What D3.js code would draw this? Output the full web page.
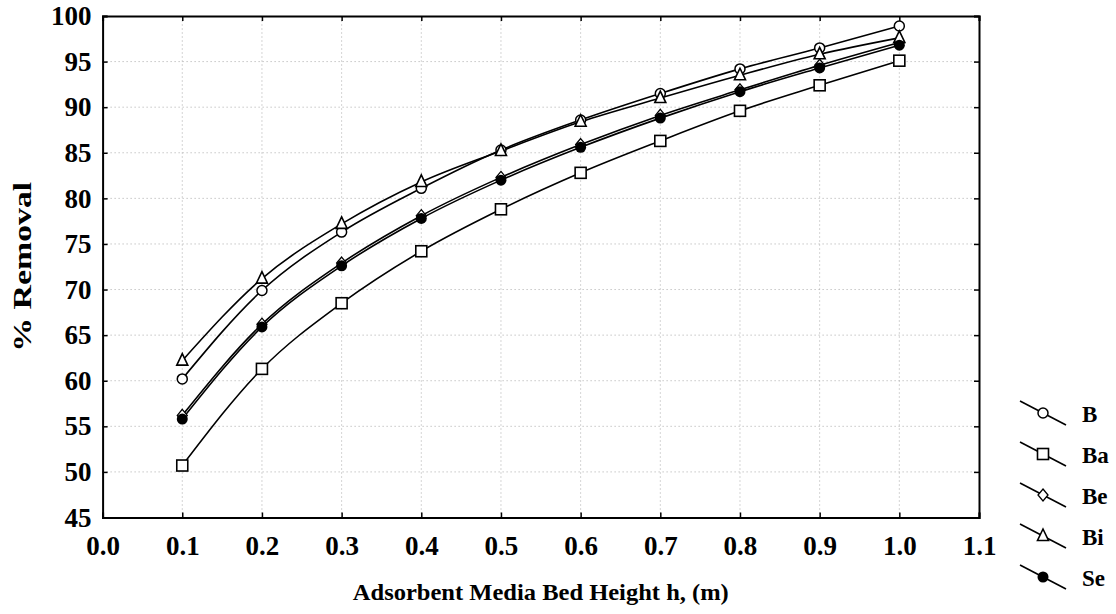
<html>
<head>
<title>removal vs bed height</title>
<style>
  body { margin: 0; background: #fff; }
  text { font-family: "Liberation Serif", "Times New Roman", serif; font-weight: bold; fill: #000; }
</style>
</head>
<body>
<script src="https://d3js.org/d3.v7.min.js"></script>
<script>
// data
var heights = [0.1, 0.2, 0.3, 0.4, 0.5, 0.6, 0.7, 0.8, 0.9, 1.0]
var B  = [60.2, 69.9, 76.3, 81.1, 85.3, 88.6, 91.5, 94.2, 96.5, 98.9]
var Ba = [50.7, 61.3, 68.5, 74.2, 78.8, 82.8, 86.3, 89.6, 92.4, 95.1]
var Be = [56.2, 66.2, 72.9, 78.1, 82.3, 85.9, 89.1, 91.9, 94.6, 97.1]
var Bi = [62.2, 71.2, 77.2, 81.8, 85.2, 88.4, 91.0, 93.5, 95.8, 97.6]
var Se = [55.8, 65.9, 72.6, 77.8, 82.0, 85.6, 88.8, 91.7, 94.3, 96.8]
var xTicks = [0.0, 0.1, 0.2, 0.3, 0.4, 0.5, 0.6, 0.7, 0.8, 0.9, 1.0, 1.1]
var yTicks = [45, 50, 55, 60, 65, 70, 75, 80, 85, 90, 95, 100]
var names = ["B", "Ba", "Be", "Bi", "Se"]
var symbols = ["circle", "square", "diamond", "triangle", "dot"]

var series = [B, Ba, Be, Bi, Se].map(function(vals, i){
    return { name: names[i], sym: symbols[i],
             pts: vals.map(function(v, j){ return [heights[j], v] }) }
})

var width = 1116, height = 614
var padding = {left: 102.6, right: 137, top: 16, bottom: 96.5}

var svg = d3.select('body').append('svg')
    .attr('width', width).attr('height', height)

var x = d3.scaleLinear().domain([0, 1.1]).range([padding.left, width - padding.right])
var y = d3.scaleLinear().domain([45, 100]).range([height - padding.bottom, padding.top])

// grid
svg.append('g').selectAll('line.gx')
    .data(xTicks.slice(1, -1)).enter().append('line')
    .attr('x1', d => x(d)).attr('x2', d => x(d))
    .attr('y1', y(45)).attr('y2', y(100))
    .attr('stroke', '#aaa').attr('stroke-width', 1).attr('stroke-dasharray', '1,3')
svg.append('g').selectAll('line.gy')
    .data(yTicks.slice(1, -1)).enter().append('line')
    .attr('x1', x(0)).attr('x2', x(1.1))
    .attr('y1', d => y(d)).attr('y2', d => y(d))
    .attr('stroke', '#aaa').attr('stroke-width', 1).attr('stroke-dasharray', '1,3')

// axes
var fmt = d3.format('.1f')
var gx = svg.append('g').attr('transform', 'translate(0,' + y(45) + ')')
    .call(d3.axisBottom(x).tickValues(xTicks).tickFormat(fmt).tickSize(-5).tickPadding(18))
var gy = svg.append('g').attr('transform', 'translate(' + x(0) + ',0)')
    .call(d3.axisLeft(y).tickValues(yTicks).tickSize(-5).tickPadding(11))
var gt = svg.append('g').attr('transform', 'translate(0,' + y(100) + ')')
    .call(d3.axisTop(x).tickValues(xTicks).tickFormat('').tickSize(-5))
var gr = svg.append('g').attr('transform', 'translate(' + x(1.1) + ',0)')
    .call(d3.axisRight(y).tickValues(yTicks).tickFormat('').tickSize(-5))

;[gx, gy, gt, gr].forEach(function(g){
    g.select('.domain').attr('stroke', '#000').attr('stroke-width', 2)
    g.selectAll('.tick line').attr('stroke', '#000').attr('stroke-width', 1.5)
    g.selectAll('.tick text').style('font-family', '"Liberation Serif", serif')
        .style('font-weight', 'bold').style('font-size', '27px').attr('fill', '#000')
})
gx.selectAll('.tick text').attr('dy', '0.71em')

// axis titles
svg.append('text').attr('x', x(0.55)).attr('y', 600)
    .attr('text-anchor', 'middle').style('font-size', '24px')
    .attr('textLength', 376).attr('lengthAdjust', 'spacingAndGlyphs')
    .text('Adsorbent Media Bed Height h, (m)')
svg.append('text').attr('transform', 'translate(31,' + y(72.5) + ') rotate(-90)')
    .attr('text-anchor', 'middle').style('font-size', '25px')
    .attr('textLength', 170).attr('lengthAdjust', 'spacingAndGlyphs')
    .text('% Removal')

// lines
var line = d3.line().x(d => x(d[0])).y(d => y(d[1])).curve(d3.curveMonotoneX)
svg.append('g').selectAll('path.s')
    .data(series).enter().append('path')
    .attr('d', d => line(d.pts))
    .attr('fill', 'none').attr('stroke', '#000').attr('stroke-width', 1.6)

function marker(g, sym){
    if (sym == 'circle') g.append('circle').attr('r', 5).attr('fill', '#fff').attr('stroke', '#000').attr('stroke-width', 1.5)
    if (sym == 'dot') g.append('circle').attr('r', 5.5).attr('fill', '#000')
    if (sym == 'square') g.append('rect').attr('x', -5.5).attr('y', -5.5).attr('width', 11).attr('height', 11)
        .attr('fill', '#fff').attr('stroke', '#000').attr('stroke-width', 1.6)
    if (sym == 'diamond') g.append('path').attr('d', 'M0,-6L5,0L0,6L-5,0Z')
        .attr('fill', '#fff').attr('stroke', '#000').attr('stroke-width', 1.3)
    if (sym == 'triangle') g.append('path').attr('d', 'M0,-7L5.5,4.5L-5.5,4.5Z')
        .attr('fill', '#fff').attr('stroke', '#000').attr('stroke-width', 1.6)
}

series.forEach(function(s){
    s.pts.forEach(function(p){
        var g = svg.append('g').attr('transform', 'translate(' + x(p[0]) + ',' + y(p[1]) + ')')
        marker(g, s.sym)
    })
})

// legend
var legY = d3.scalePoint().domain(names).range([413, 577])
series.forEach(function(s){
    var ly = legY(s.name)
    var lg = svg.append('g').attr('transform', 'translate(1043,' + ly + ')')
    lg.append('line').attr('x1', -23).attr('y1', -12).attr('x2', 23).attr('y2', 12)
        .attr('stroke', '#000').attr('stroke-width', 1.6)
    marker(lg, s.sym)
    svg.append('text').attr('x', 1082).attr('y', ly + 9).style('font-size', '23px').text(s.name)
})
</script>
</body>
</html>
